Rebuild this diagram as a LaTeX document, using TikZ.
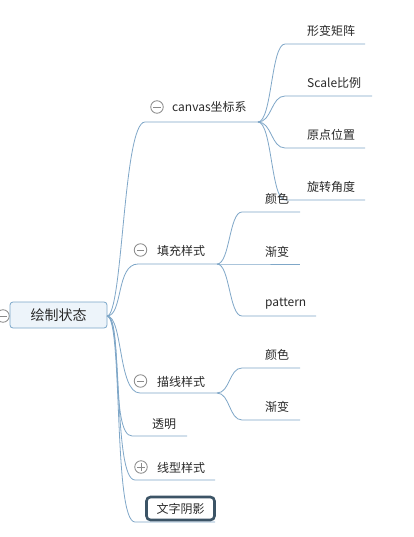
\documentclass[tikz,border=0pt]{standalone}
\usepackage{fontspec}
\usetikzlibrary{calc}
\newfontfamily\cjk{Noto Sans CJK SC}
\definecolor{linkc}{HTML}{7FA7C8}
\definecolor{rootfill}{HTML}{EDF4FA}
\definecolor{rootdraw}{HTML}{7AA6C9}
\definecolor{txt}{HTML}{2A2A2A}
\definecolor{tog}{HTML}{8A8A8A}
\definecolor{shadowc}{HTML}{3C5466}
\begin{document}
\begin{tikzpicture}[x=1pt,y=-1pt,
  link/.style={draw=linkc, line width=0.8pt},
  lbl/.style={anchor=west, inner sep=0pt, font=\cjk\fontsize{12}{14}\selectfont, text=txt},
  tgbase/.style={circle, draw=tog, line width=0.8pt, minimum size=12.5pt, inner sep=0pt, fill=white},
  tgminus/.style={tgbase, path picture={\draw[tog, line width=0.8pt] ([xshift=-3.6pt]path picture bounding box.center) -- ([xshift=3.6pt]path picture bounding box.center);}},
  tgplus/.style={tgbase, path picture={\draw[tog, line width=0.8pt] ([xshift=-3.6pt]path picture bounding box.center) -- ([xshift=3.6pt]path picture bounding box.center) ([yshift=-3.6pt]path picture bounding box.center) -- ([yshift=3.6pt]path picture bounding box.center);}},
]
\useasboundingbox[fill=white] (0,0) rectangle (413,537);

% root
\node[tgminus] (rt) at (3,316) {};
\node[draw=rootdraw, fill=rootfill, line width=0.8pt, rounded corners=3pt, minimum width=97pt, minimum height=26pt, inner sep=0pt, font=\cjk\fontsize{14}{16}\selectfont, text=txt] (root) at (58.5,315) {绘制状态};
\coordinate (R) at (107,316);

% level-1 underline coordinates
\coordinate (c1s) at (145,122); \coordinate (c1e) at (258,122);
\coordinate (c2s) at (138,264); \coordinate (c2e) at (217,264);
\coordinate (c3s) at (140,393); \coordinate (c3e) at (217,393);
\coordinate (c4s) at (132,436); \coordinate (c4e) at (187,436);
\coordinate (c5s) at (135,480); \coordinate (c5e) at (215,480);
\coordinate (c6s) at (135,522); \coordinate (c6e) at (215,522);

% canvas children
\coordinate (a1s) at (285,44);  \coordinate (a1e) at (365,44);
\coordinate (a2s) at (285,96);  \coordinate (a2e) at (372,96);
\coordinate (a3s) at (285,148); \coordinate (a3e) at (365,148);
\coordinate (a4s) at (285,200); \coordinate (a4e) at (365,200);
% fill children
\coordinate (b1s) at (242,212); \coordinate (b1e) at (300,212);
\coordinate (b2s) at (242,264); \coordinate (b2e) at (300,264);
\coordinate (b3s) at (242,316); \coordinate (b3e) at (316,316);
% stroke children
\coordinate (d1s) at (242,368); \coordinate (d1e) at (300,368);
\coordinate (d2s) at (242,420); \coordinate (d2e) at (300,420);

% connectors from root
\foreach \s/\e in {c1s/c1e,c2s/c2e,c3s/c3e,c4s/c4e,c5s/c5e,c6s/c6e}{
  \draw[link] (R) .. controls ($(R)+(16,0)$) and ($(\s)+(-22,0)$) .. (\s) -- (\e);
}
% connectors from canvas
\foreach \s/\e in {a1s/a1e,a2s/a2e,a3s/a3e,a4s/a4e}{
  \draw[link] (c1e) .. controls ($(c1e)+(14,0)$) and ($(\s)+(-14,0)$) .. (\s) -- (\e);
}
% connectors from fill
\foreach \s/\e in {b1s/b1e,b2s/b2e,b3s/b3e}{
  \draw[link] (c2e) .. controls ($(c2e)+(13,0)$) and ($(\s)+(-13,0)$) .. (\s) -- (\e);
}
% connectors from stroke
\foreach \s/\e in {d1s/d1e,d2s/d2e}{
  \draw[link] (c3e) .. controls ($(c3e)+(13,0)$) and ($(\s)+(-13,0)$) .. (\s) -- (\e);
}

% toggles
\node[tgminus] (t1) at (157,107) {};
\node[tgminus] (t2) at (140.5,250) {};
\node[tgminus] (t3) at (140.5,381) {};
\node[tgplus]  (t5) at (141,467) {};

% labels
\node[lbl] (n1) at (172,107) {canvas坐标系};
\node[lbl] (n2) at (157,251) {填充样式};
\node[lbl] (n3) at (157,382) {描线样式};
\node[lbl] (n4) at (152,424) {透明};
\node[lbl] (n5) at (157,468) {线型样式};
\node[draw=shadowc, line width=2.6pt, rounded corners=4pt, minimum width=68pt, minimum height=23pt, inner sep=0pt, fill=white, font=\cjk\fontsize{12}{14}\selectfont, text=txt] (n6) at (180.5,508.5) {文字阴影};

\node[lbl] (m1) at (307,31)  {形变矩阵};
\node[lbl] (m2) at (307,83)  {Scale比例};
\node[lbl] (m3) at (307,135) {原点位置};
\node[lbl] (m4) at (307,187) {旋转角度};

\node[lbl] (f1) at (265,199) {颜色};
\node[lbl] (f2) at (265,252) {渐变};
\node[lbl] (f3) at (265,304) {pattern};

\node[lbl] (s1) at (265,355) {颜色};
\node[lbl] (s2) at (265,407) {渐变};
\end{tikzpicture}
\end{document}
